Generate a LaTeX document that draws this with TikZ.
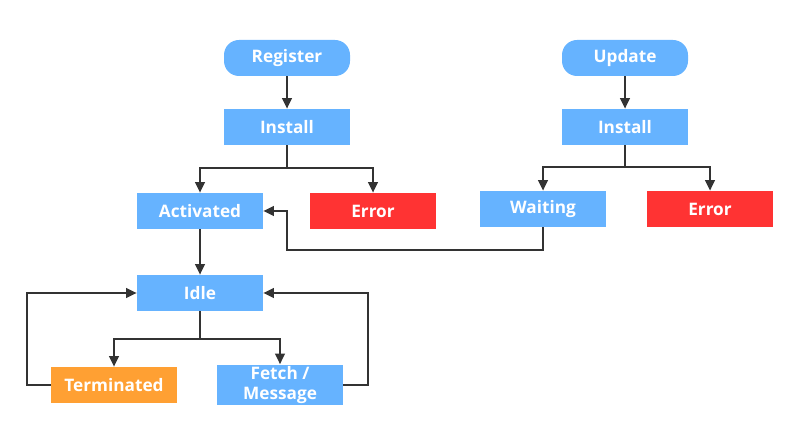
\documentclass[tikz,border=0pt]{standalone}
\usepackage{fontspec}
\setmainfont{Open Sans}
\usepackage{tikz}
\usetikzlibrary{arrows.meta,positioning}

\definecolor{stateblue}{RGB}{102,179,255}
\definecolor{errred}{RGB}{255,51,51}
\definecolor{endorange}{RGB}{255,160,51}
\definecolor{wire}{RGB}{51,51,51}

\begin{document}
\begin{tikzpicture}[
        font=\bfseries\fontsize{9.8}{11.5}\selectfont,
        state/.style={fill=stateblue, text=white, rectangle, align=center, minimum width=2.52cm, minimum height=0.72cm, inner sep=1pt},
        start/.style={state, rounded corners=0.3cm},
        fail/.style={state, fill=errred},
        stop/.style={state, fill=endorange},
        signal/.style={-{Triangle[length=6pt,width=5.5pt]}, line width=1.1pt, draw=wire}
    ]
        \useasboundingbox (0,0) rectangle (16,-8.96);

        \node[start] (reg) at (5.74,-1.16) {Register};
        \node[state] (inst) at (5.74,-2.54) {Install};
        \node[state] (act) at (4.00,-4.22) {Activated};
        \node[fail] (err) at (7.46,-4.22) {Error};

        \node[start] (upd) at (12.50,-1.16) {Update};
        \node[state] (instb) at (12.50,-2.54) {Install};
        \node[state] (wait) at (10.86,-4.18) {Waiting};
        \node[fail] (errb) at (14.20,-4.18) {Error};

        \node[state] (idle) at (4.00,-5.86) {Idle};
        \node[stop] (term) at (2.28,-7.70) {Terminated};
        \node[state] (fetch) at (5.60,-7.70) {Fetch /\\Message};

        \coordinate (back) at (5.74,-5.00);

        \draw[signal] (reg) -- (inst);
        \draw[signal] (inst.south) -- ++(0,-0.46) -| (act.north);
        \draw[signal] (inst.south) -- ++(0,-0.46) -| (err.north);

        \draw[signal] (upd) -- (instb);
        \draw[signal] (instb.south) -- ++(0,-0.44) -| (wait.north);
        \draw[signal] (instb.south) -- ++(0,-0.44) -| (errb.north);

        \draw[signal] (wait.south) |- (back) |- (act.east);
        \draw[signal] (act) -- (idle);

        \draw[signal] (idle.south) -- ++(0,-0.56) -| (term.north);
        \draw[signal] (idle.south) -- ++(0,-0.56) -| (fetch.north);
        \draw[signal] (term.west) -- ++(-0.48,0) |- (idle.west);
        \draw[signal] (fetch.east) -- ++(0.50,0) |- (idle.east);
    \end{tikzpicture}
\end{document}
